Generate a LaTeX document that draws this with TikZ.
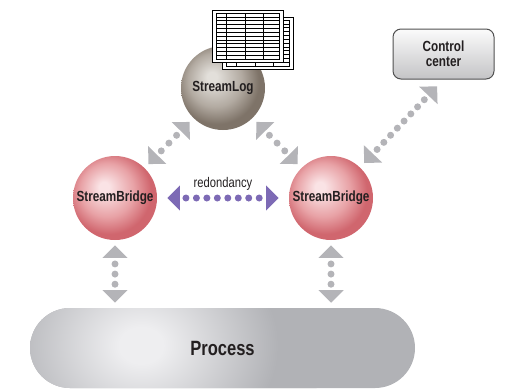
\documentclass[tikz,border=0pt]{standalone}
\usepackage{fontspec}
\setmainfont{Liberation Sans}[FakeStretch=0.8]
\usetikzlibrary{arrows.meta}

% Colours
\definecolor{textdark}{HTML}{231F20}
\definecolor{linkgray}{HTML}{B4B4B8}
\definecolor{linkpurple}{HTML}{7D6AB5}
\definecolor{bridgehi}{HTML}{FAE3E5}
\definecolor{bridgemid}{HTML}{E8A2A6}
\definecolor{bridgedark}{HTML}{D0666E}
\definecolor{loghi}{HTML}{E2DFDA}
\definecolor{logmid}{HTML}{B2AAA1}
\definecolor{logdark}{HTML}{7E7368}
\definecolor{ctrltop}{HTML}{FBFBFB}
\definecolor{ctrlbottom}{HTML}{C4C4C6}
\definecolor{ctrlborder}{HTML}{505050}
\definecolor{prochi}{HTML}{EEEEF0}
\definecolor{procdark}{HTML}{B1B2B6}

% Shadings (the circle edge sits at 25bp)
\pgfdeclareradialshading{bridgeball}{\pgfpoint{-7bp}{7bp}}{color(0bp)=(bridgehi); color(3bp)=(bridgehi); color(16bp)=(bridgemid); color(25bp)=(bridgedark); color(50bp)=(bridgedark)}
\pgfdeclareradialshading{logball}{\pgfpoint{-7bp}{7bp}}{color(0bp)=(loghi); color(3bp)=(loghi); color(16bp)=(logmid); color(25bp)=(logdark); color(50bp)=(logdark)}
\pgfdeclareradialshading{procglow}{\pgfpoint{0bp}{0bp}}{color(0bp)=(prochi); color(2bp)=(prochi); color(12.5bp)=(procdark); color(50bp)=(procdark)}

\tikzset{
	sphere/.style={circle, inner sep=0pt, minimum size=63pt, text=textdark, font=\bfseries\fontsize{11}{13}\selectfont},
	bridge/.style={sphere, shading=bridgeball},
	logsphere/.style={sphere, shading=logball},
	ctrlbox/.style={draw=ctrlborder, line width=0.75pt, rounded corners=6pt, top color=ctrltop, bottom color=ctrlbottom, minimum width=75.75pt, minimum height=37.5pt, align=center, text=textdark, font=\bfseries\fontsize{11}{11}\selectfont},
	procbox/.style={rounded corners=30pt, minimum width=288.75pt, minimum height=60pt, fill=procdark, text=textdark, font=\bfseries\fontsize{15.5}{18}\selectfont,
		path picture={\shade[shading=procglow] ([xshift=48pt,yshift=2pt]path picture bounding box.west) circle (170pt);}},
	>={Triangle[length=9.5pt,width=19pt,line width=0pt]},
	link/.style 2 args={<->, draw=linkgray, line width=5.25pt, line cap=round, dash pattern=on 0pt off #1, dash phase=#2, shorten <=4pt, shorten >=4pt},
}

% One sheet of the log printout
\newcommand{\spreadsheet}[2]{%
	\begin{scope}[shift={(#1,#2)}]
		\filldraw[fill=white, draw=black, line width=0.6pt] (0,0) rectangle (71,52);
		\draw[line width=0.5pt] (4,3) rectangle (67,49);
		\foreach \row in {1,...,11}
			\draw[line width=0.3pt] (4,{3+\row*46/12}) -- (67,{3+\row*46/12});
		\foreach \col in {14,33,51}
			\draw[line width=0.6pt] (\col,3) -- (\col,49);
	\end{scope}}

\begin{document}
\begin{tikzpicture}[x=0.75pt,y=-0.75pt]
	\useasboundingbox (0,0) rectangle (509,390);

	% Spheres
	\node[logsphere] (log) at (223,88) {StreamLog};
	\node[bridge] (lbr) at (115,198) {StreamBridge};
	\node[bridge] (rbr) at (331,198) {StreamBridge};

	% Printout on top of the log
	\spreadsheet{222}{17}
	\spreadsheet{212}{10}

	% Control center and process
	\node[ctrlbox] (ctrl) at (443.5,54) {Control\\center};
	\node[procbox] (proc) at (222.5,348) {Process};

	% Links to the log
	\draw[link={8.2pt}{3.7pt}] (log) -- (lbr);
	\draw[link={8.2pt}{3.7pt}] (log) -- (rbr);

	% Link to the control center
	\draw[link={7.35pt}{2.85pt}, shorten <=4.5pt, shorten >=7pt] (rbr) -- (ctrl.south);

	% Redundancy link
	\draw[link={7.85pt}{3.35pt}, draw=linkpurple, shorten <=7.5pt, shorten >=7.5pt] (lbr) -- node[above, text=textdark, font=\fontsize{10.5}{12}\selectfont] {redondancy} (rbr);

	% Links to the process
	\draw[link={7.6pt}{3.1pt}, shorten <=3.75pt, shorten >=3.75pt] (lbr) -- (lbr |- proc.north);
	\draw[link={7.6pt}{3.1pt}, shorten <=3.75pt, shorten >=3.75pt] (rbr) -- (rbr |- proc.north);
\end{tikzpicture}
\end{document}
